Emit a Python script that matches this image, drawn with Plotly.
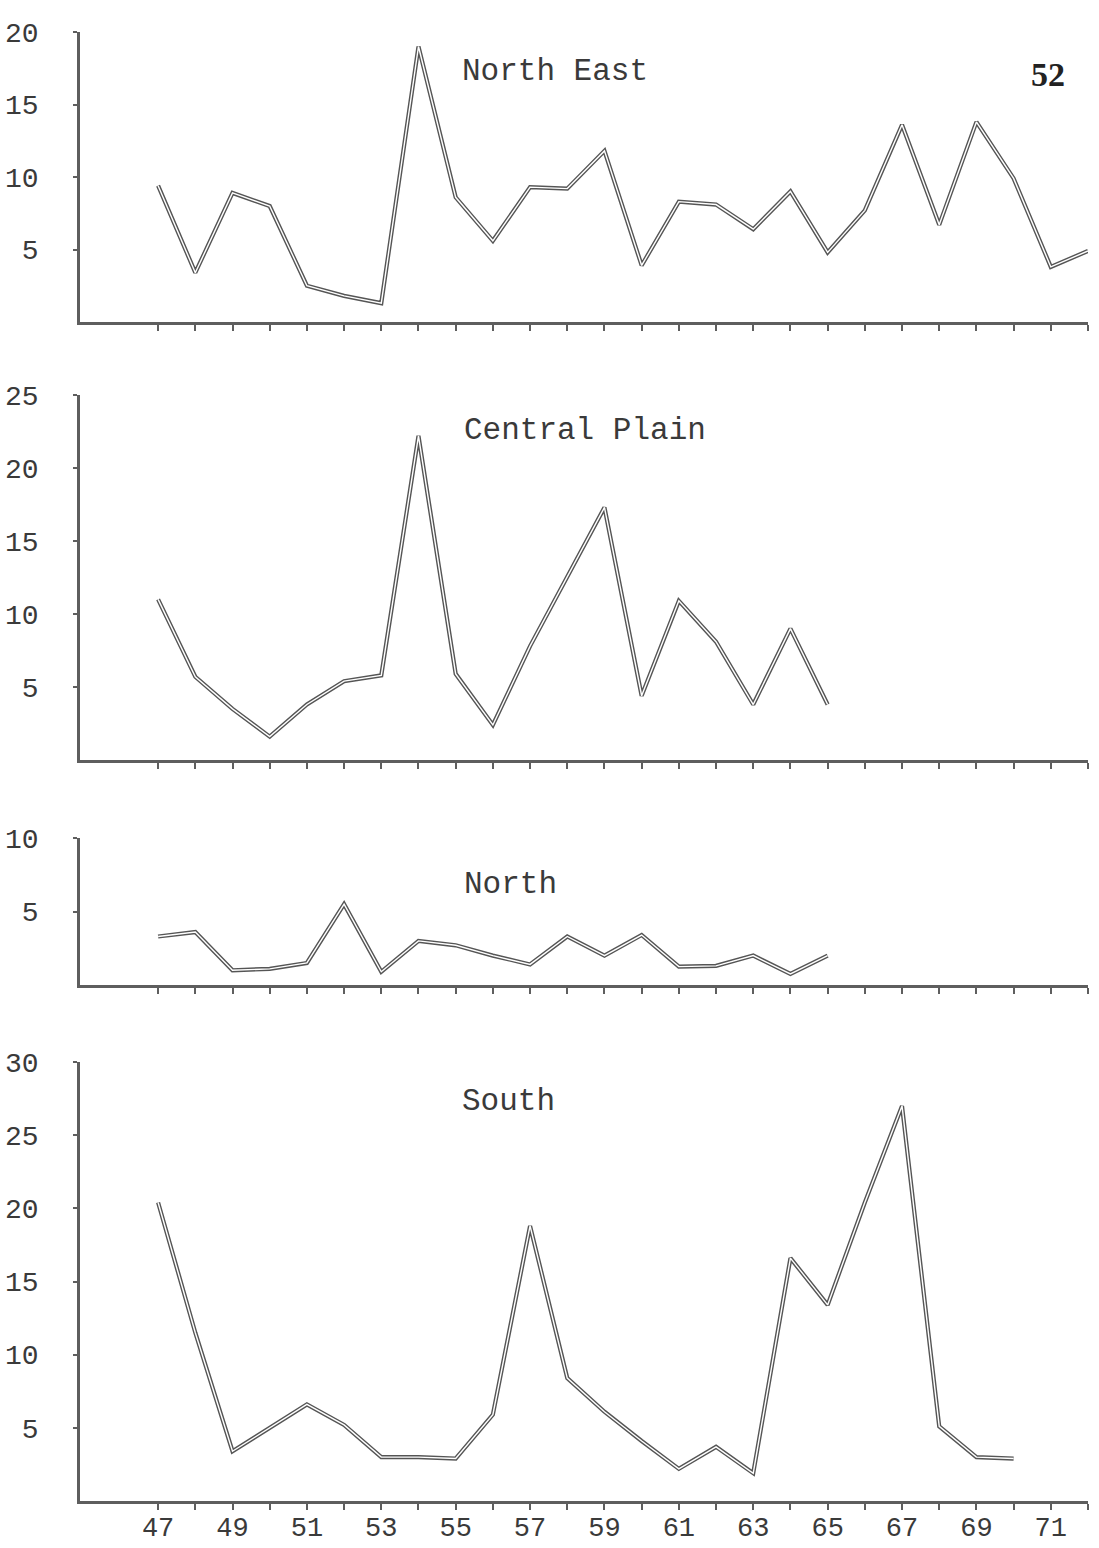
import plotly.graph_objects as go
from plotly.subplots import make_subplots

# ---------------- data ----------------
years_ne = list(range(47, 73))
north_east = [9.4, 3.4, 8.9, 8.0, 2.5, 1.8, 1.3, 19.0, 8.6, 5.6, 9.3, 9.2, 11.8,
              3.9, 8.3, 8.1, 6.4, 9.0, 4.8, 7.7, 13.6, 6.7, 13.8, 9.9, 3.8, 4.9]

years_cp = list(range(47, 66))
central_plain = [11.0, 5.7, 3.5, 1.6, 3.8, 5.4, 5.8, 22.2, 5.9, 2.4, 7.8, 12.6,
                 17.3, 4.4, 10.9, 8.1, 3.8, 9.0, 3.8]

years_n = list(range(47, 66))
north = [3.3, 3.6, 1.0, 1.1, 1.5, 5.5, 0.9, 3.0, 2.7, 2.0, 1.4, 3.3, 2.0, 3.4,
         1.25, 1.3, 2.0, 0.75, 2.0]

years_s = list(range(47, 71))
south = [20.4, 11.5, 3.4, 5.0, 6.6, 5.2, 3.0, 3.0, 2.9, 5.9, 18.8, 8.4, 6.1, 4.1,
         2.2, 3.7, 1.9, 16.6, 13.4, 20.4, 27.0, 5.1, 3.0, 2.9]

tick_years = list(range(47, 73))
label_years = list(range(47, 72, 2))

panels = [
    ("North East", years_ne, north_east, [5, 10, 15, 20], 20),
    ("Central Plain", years_cp, central_plain, [5, 10, 15, 20, 25], 25),
    ("North", years_n, north, [5, 10], 10),
    ("South", years_s, south, [5, 10, 15, 20, 25, 30], 30),
]

# ---------------- layout geometry (page pixels) ----------------
W, H = 1099, 1548
X_LEFT, X_RIGHT = 80, 1088   # plot area in page pixels
ML = X_LEFT
MR = W - X_RIGHT
panel_px = [(32, 322), (395, 760), (838, 985), (1062, 1501)]  # (top, bottom)
title_px = [(460, 72), (462, 430), (462, 884), (460, 1101)]

INK = "#3a3a3a"
AX = "#5e5e5e"
FONT = "Liberation Mono, Courier New, monospace"


def py(p):
    return 1 - p / H


def px(p):
    return (p - X_LEFT) / (X_RIGHT - X_LEFT)


fig = make_subplots(rows=4, cols=1)

for i, (name, xs, ys, yticks, ymax) in enumerate(panels):
    r = i + 1
    fig.add_trace(go.Scatter(x=xs, y=ys, mode="lines",
                             line=dict(color="#555555", width=4.2),
                             hoverinfo="skip", showlegend=False), row=r, col=1)
    fig.add_trace(go.Scatter(x=xs, y=ys, mode="lines",
                             line=dict(color="white", width=1.4),
                             hoverinfo="skip", showlegend=False), row=r, col=1)

    top, bot = panel_px[i]
    xa = "xaxis" if r == 1 else f"xaxis{r}"
    ya = "yaxis" if r == 1 else f"yaxis{r}"
    is_bottom = (r == 4)
    ticktext = [str(y) if (is_bottom and y in label_years) else "" for y in tick_years]
    fig.layout[xa].update(
        domain=[0, 1], range=[44.9, 72.0], showgrid=False, zeroline=False,
        showline=True, linecolor=AX, linewidth=2.5, automargin=False,
        ticks="outside", ticklen=6, tickwidth=1.5, tickcolor=AX,
        tickvals=tick_years, ticktext=ticktext,
        tickfont=dict(family=FONT, size=27, color=INK),
        ticklabelstandoff=-6,
    )
    fig.layout[ya].update(
        domain=[py(bot), py(top)], range=[0, ymax], showgrid=False, zeroline=False,
        showline=True, linecolor=AX, linewidth=2.5, automargin=False,
        ticks="outside", ticklen=4, tickwidth=1.5, tickcolor=AX,
        tickvals=yticks, ticktext=[str(v) for v in yticks],
        tickfont=dict(family=FONT, size=28, color=INK),
        ticklabelstandoff=29,
    )
    tx, ty = title_px[i]
    fig.add_annotation(text=name, xref="paper", yref="paper",
                       x=px(tx), y=py(ty),
                       xanchor="left", yanchor="middle", showarrow=False,
                       font=dict(family=FONT, size=31, color=INK))

fig.add_annotation(text="<b>52</b>", xref="paper", yref="paper",
                   x=px(1048), y=py(74),
                   xanchor="center", yanchor="middle", showarrow=False,
                   font=dict(family="Liberation Serif, serif", size=34, color="#222"))

fig.update_layout(width=W, height=H, margin=dict(l=ML, r=MR, t=0, b=0, pad=0),
                  plot_bgcolor="white", paper_bgcolor="white", showlegend=False)

fig.write_html("out.html", config={"displayModeBar": False},
               post_script="document.body.style.margin='0';document.body.style.overflow='hidden';")
